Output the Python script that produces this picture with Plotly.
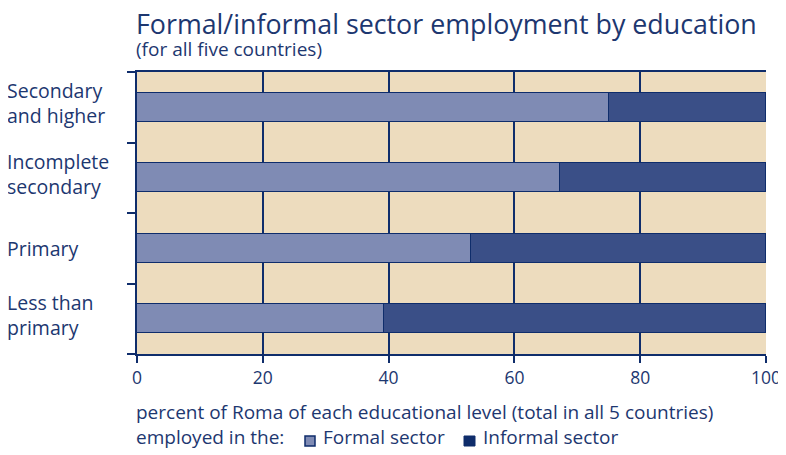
import plotly.graph_objects as go

# data (bottom to top)
levels = ["Less than<br>primary", "Primary", "Incomplete<br>secondary", "Secondary<br>and higher"]
formal = [39.3, 53.1, 67.2, 75.0]
informal = [100 - v for v in formal]
x_ticks = [0, 20, 40, 60, 80, 100]

navy = "#0f2d6b"
text_col = "#1d3770"
bg = "#eddcbe"
formal_col = "#7f8bb4"
informal_col = "#3a4f87"
font_family = "Open Sans"

# the page body adds an 8px margin, so the figure sits at (8, 8)
OFF = 8
FIG_W, FIG_H = 786, 447
# plot area in page pixels: x 137..766, y 72..354
L, R, T, B = 137, 766, 72, 354
W, H = R - L, B - T


def px(x):
    return (x - L) / W


def py(y):
    return (B - y) / H


ypos = list(range(len(levels)))

fig = go.Figure()
fig.add_trace(go.Bar(
    y=ypos, x=formal, orientation="h", name="Formal sector",
    marker=dict(color=formal_col, line=dict(color=navy, width=1.5)),
    width=0.41,
))
fig.add_trace(go.Bar(
    y=ypos, x=informal, orientation="h", name="Informal sector",
    marker=dict(color=informal_col, line=dict(color=navy, width=1.5)),
    width=0.41,
))

# category labels, left aligned
for i, lab in enumerate(levels):
    fig.add_annotation(
        x=px(5), xref="paper", y=i, yref="y",
        text=lab, showarrow=False, xanchor="left", align="left",
        yshift=4 if "<br>" in lab else 0,
        font=dict(size=19.5, color=text_col, family=font_family),
    )

# titles and bottom text
texts = [
    ("Formal/informal sector employment by education", 134, 24, 26.8),
    ("(for all five countries)", 134, 49, 19),
    ("percent of Roma of each educational level (total in all 5 countries)", 134, 412, 19),
    ("employed in the:", 134, 437, 19),
    ("Formal sector", 321, 437, 19),
    ("Informal sector", 481, 437, 19),
]
for t, x, y, s in texts:
    fig.add_annotation(
        x=px(x), xref="paper", y=py(y), yref="paper", yanchor="middle", xanchor="left",
        text=t, showarrow=False,
        font=dict(size=s, color=text_col, family=font_family),
    )

# legend squares
fig.add_shape(type="rect", xref="paper", yref="paper",
              x0=px(305), x1=px(315), y0=py(446), y1=py(436),
              fillcolor=formal_col, line=dict(color=navy, width=1.5))
fig.add_shape(type="rect", xref="paper", yref="paper",
              x0=px(464), x1=px(475), y0=py(446), y1=py(436),
              fillcolor=navy, line=dict(color=navy, width=1))

fig.update_layout(
    width=FIG_W, height=FIG_H,
    margin=dict(l=L - OFF, r=FIG_W + OFF - R, t=T - OFF, b=FIG_H + OFF - B, autoexpand=False),
    barmode="stack",
    plot_bgcolor=bg, paper_bgcolor="white",
    bargap=0,
    font=dict(family=font_family, color=text_col),
    showlegend=False,
    xaxis=dict(
        range=[0, 100], tickvals=x_ticks, automargin=False,
        ticklabeloverflow="allow",
        showgrid=True, gridcolor=navy, gridwidth=1.5,
        showline=True, linecolor=navy, linewidth=2, mirror=True,
        ticks="outside", ticklen=7, tickcolor=navy, tickwidth=2,
        tickfont=dict(size=17.5, color=text_col), zeroline=False,
    ),
    yaxis=dict(
        range=[-0.5, 3.5], tickvals=[-0.5, 0.5, 1.5, 2.5, 3.5], automargin=False,
        showticklabels=False, showgrid=False, zeroline=False,
        showline=True, linecolor=navy, linewidth=2,
        ticks="outside", ticklen=8, tickcolor=navy, tickwidth=2,
    ),
)

fig.write_html("out.html")
